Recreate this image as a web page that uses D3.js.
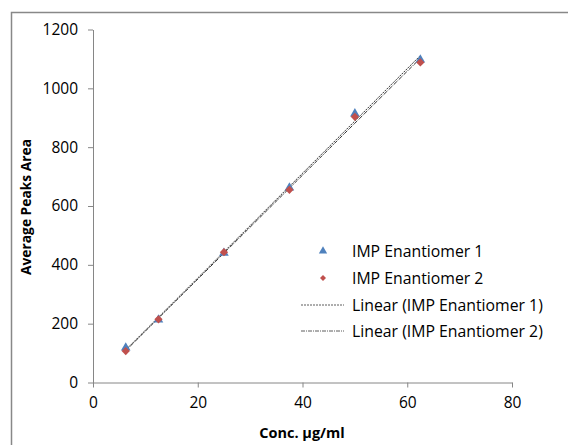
<!DOCTYPE html>
<html>
<head>
<meta charset="utf-8">
<script src="https://cdn.jsdelivr.net/npm/d3@7"></script>
<style>
  body { margin: 0; background: #fff; }
  svg { font-family: 'Open Sans', 'Liberation Sans', sans-serif; }
</style>
</head>
<body>
<svg id="chart" width="568" height="445"></svg>
<script>
const conc = [6.25, 12.5, 25, 37.5, 50, 62.5]
const enant1 = [118, 213, 440, 662, 914, 1097]
const enant2 = [107, 215, 443, 655, 903, 1088]
const xTicks = [0, 20, 40, 60, 80]
const yTicks = [0, 200, 400, 600, 800, 1000, 1200]
const legendLabels = ['IMP Enantiomer 1', 'IMP Enantiomer 2', 'Linear (IMP Enantiomer 1)', 'Linear (IMP Enantiomer 2)']

const COLORS = { e1: '#4F81BD', e2: '#C0504D', axis: '#868686', trend: '#333' }

const svg = d3.select('#chart')
svg.append('rect')
  .attr('x', 11.5).attr('y', 12.5).attr('width', 600).attr('height', 500)
  .attr('fill', 'none').attr('stroke', '#888').attr('stroke-width', 1.5)

const x = d3.scaleLinear().domain([0, 80]).range([93, 512])
const y = d3.scaleLinear().domain([0, 1200]).range([382.5, 29.5])

const xAxis = svg.append('g').attr('transform', 'translate(0,382.5)')
  .call(d3.axisBottom(x).tickValues(xTicks).tickFormat(d3.format('d')).tickSize(5).tickSizeOuter(0).tickPadding(9))
const yAxis = svg.append('g').attr('transform', 'translate(93,0)')
  .call(d3.axisLeft(y).tickValues(yTicks).tickFormat(d3.format('d')).tickSize(5).tickSizeOuter(0).tickPadding(10))
;[xAxis, yAxis].forEach(a => {
  a.select('.domain').attr('stroke', COLORS.axis)
  a.selectAll('.tick line').attr('stroke', COLORS.axis)
  a.selectAll('.tick text').attr('fill', '#000').attr('font-size', 15.5)
    .attr('font-family', "'Open Sans', sans-serif")
})

// least squares trend line
const fit = vals => {
  const mx = d3.mean(conc), my = d3.mean(vals)
  const b = d3.sum(conc, (c, i) => (c - mx) * (vals[i] - my)) / d3.sum(conc, c => (c - mx) ** 2)
  return c => my + b * (c - mx)
}
const ext = d3.extent(conc)
const line = d3.line().x(d => x(d[0])).y(d => y(d[1]))
const f1 = fit(enant1), f2 = fit(enant2)
svg.append('path').attr('d', line(ext.map(c => [c, f1(c)])))
  .attr('fill', 'none').attr('stroke', COLORS.trend).attr('stroke-width', 1).attr('stroke-dasharray', '2,1')
svg.append('path').attr('d', line(ext.map(c => [c, f2(c)])))
  .attr('fill', 'none').attr('stroke', COLORS.trend).attr('stroke-width', 1).attr('stroke-dasharray', '4,1,1,1')

const tri = d3.symbol().type(d3.symbolTriangle).size(40)
const dia = d3.symbol().type(d3.symbolSquare).size(34)

svg.append('g').selectAll('path').data(conc).join('path')
  .attr('d', tri)
  .attr('transform', (c, i) => `translate(${x(c)},${y(enant1[i])})`)
  .attr('fill', COLORS.e1)
svg.append('g').selectAll('path').data(conc).join('path')
  .attr('d', dia)
  .attr('transform', (c, i) => `translate(${x(c)},${y(enant2[i])}) rotate(45)`)
  .attr('fill', COLORS.e2)

// legend
const lg = svg.append('g')
const rowY = [251, 278, 305, 331]
legendLabels.forEach((t, i) => {
  lg.append('text').attr('x', 352).attr('y', rowY[i]).attr('dy', '0.35em')
    .attr('font-size', 15.8).text(t)
})
lg.append('path').attr('d', d3.symbol().type(d3.symbolTriangle).size(30))
  .attr('transform', `translate(323,${rowY[0]})`).attr('fill', COLORS.e1)
lg.append('path').attr('d', d3.symbol().type(d3.symbolSquare).size(18))
  .attr('transform', `translate(323,${rowY[1]}) rotate(45)`).attr('fill', COLORS.e2)
lg.append('line').attr('x1', 301).attr('x2', 344).attr('y1', rowY[2]).attr('y2', rowY[2])
  .attr('stroke', COLORS.trend).attr('stroke-width', 0.8).attr('stroke-dasharray', '2,1')
lg.append('line').attr('x1', 301).attr('x2', 344).attr('y1', rowY[3]).attr('y2', rowY[3])
  .attr('stroke', COLORS.trend).attr('stroke-width', 0.8).attr('stroke-dasharray', '4,1,1,1')

// axis titles
svg.append('text').attr('x', 302).attr('y', 438).attr('text-anchor', 'middle')
  .attr('font-size', 14.5).attr('font-weight', 'bold').text('Conc. µg/ml')
svg.append('text').attr('transform', 'translate(31,207) rotate(-90)').attr('text-anchor', 'middle')
  .attr('font-size', 13.8).attr('font-weight', 'bold').text('Average Peaks Area')
</script>
</body>
</html>
